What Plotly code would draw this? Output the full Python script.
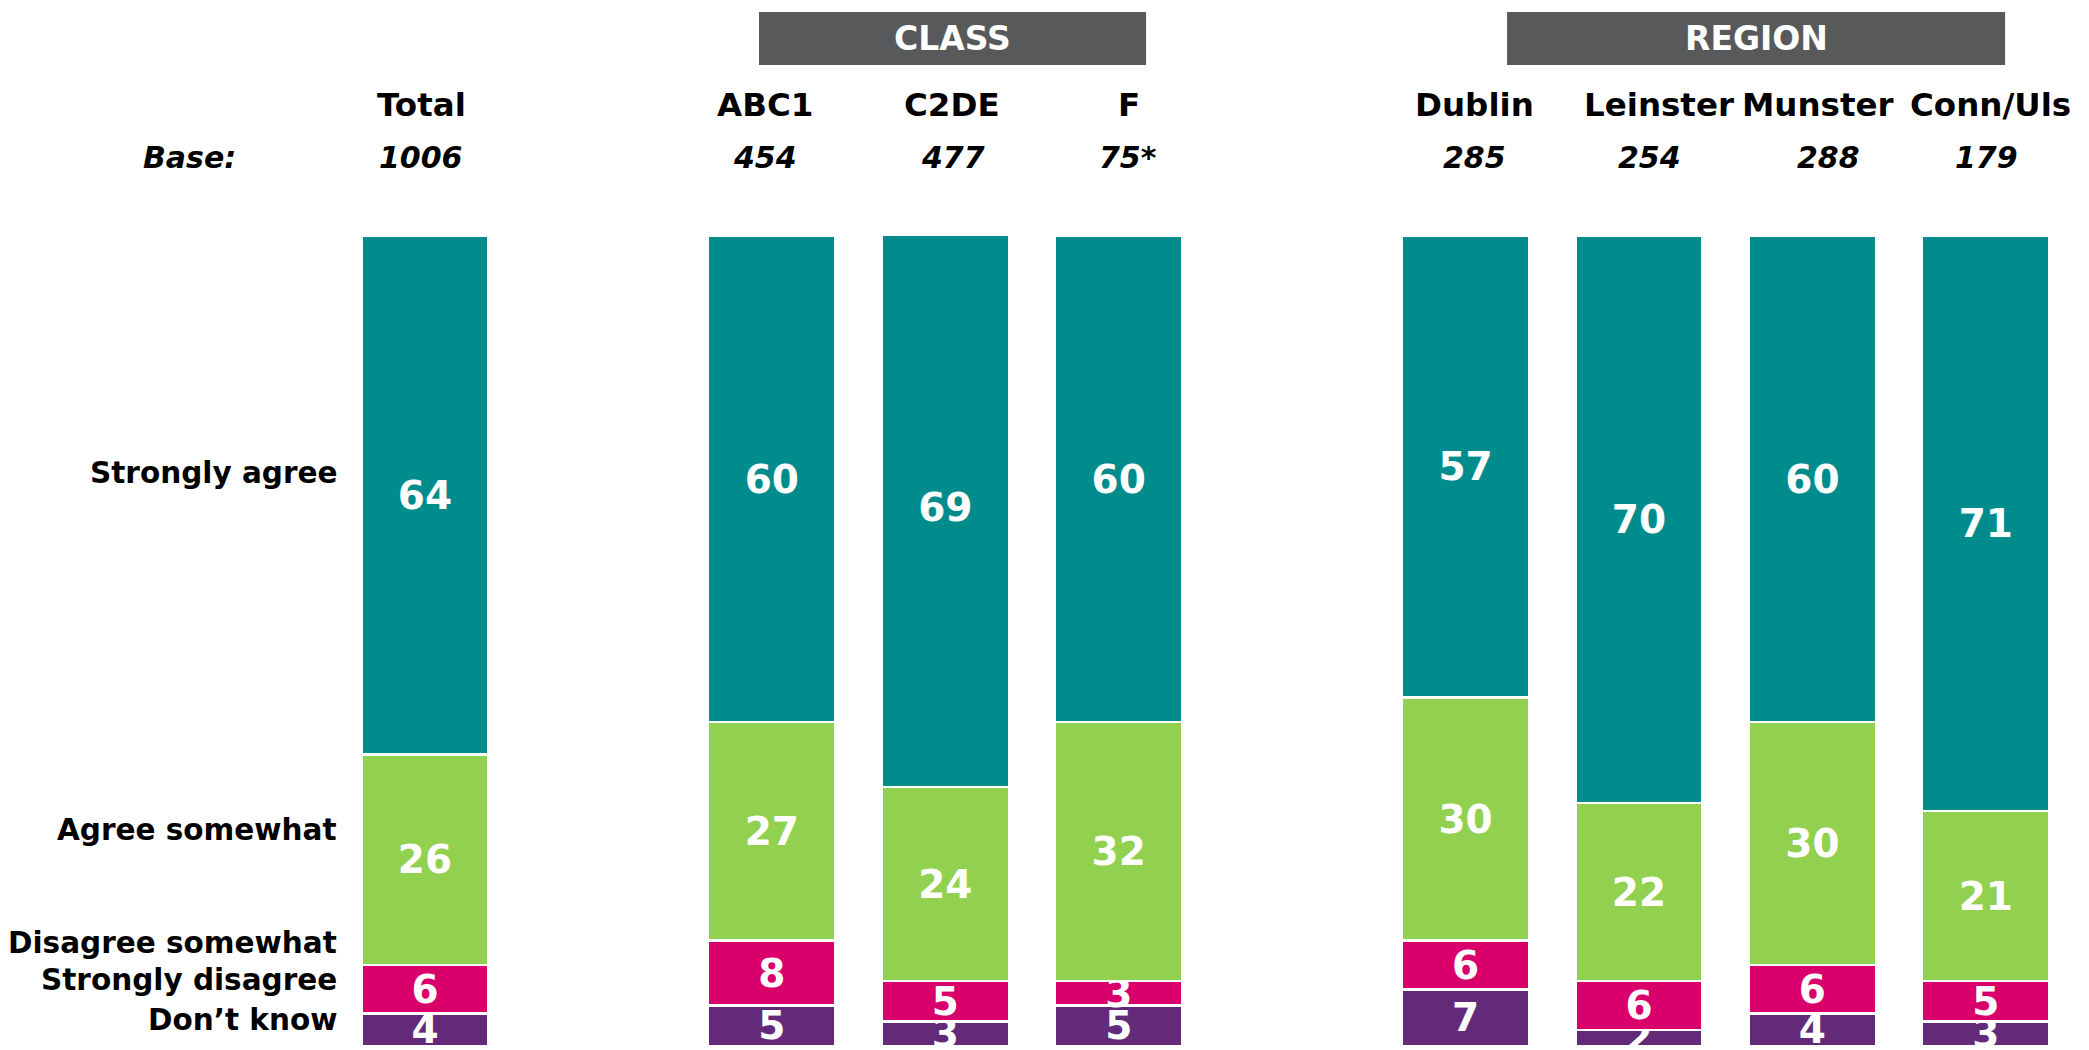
import plotly.graph_objects as go

# ---- data ----
groups = ["Total", "ABC1", "C2DE", "F", "Dublin", "Leinster", "Munster", "Conn/Uls"]
bases = ["1006", "454", "477", "75*", "285", "254", "288", "179"]
strongly_agree = [64, 60, 69, 60, 57, 70, 60, 71]
agree_somewhat = [26, 27, 24, 32, 30, 22, 30, 21]
strongly_disagree = [6, 8, 5, 3, 6, 6, 6, 5]
dont_know = [4, 5, 3, 5, 7, 2, 4, 3]
row_labels = ["Strongly agree", "Agree somewhat", "Disagree somewhat", "Strongly disagree", "Don\u2019t know"]
section_titles = ["CLASS", "REGION"]

# spacer categories to create gaps between sections
SP1, SP2 = "\u2002", "\u2003"
cat_order = [groups[0], SP1] + groups[1:4] + [SP2] + groups[4:]

# small horizontal nudges of the header texts (pixels), as in the original layout
label_shift = [-4, -7, 7, 10, 9, 20, 6, 5]
base_shift = [-4, -7, 8, 9, 9, 11, 16, 1]

FONT = "DejaVu Sans"
series = [
    ("Don\u2019t know", dont_know, "#622A78"),
    ("Strongly disagree", strongly_disagree, "#D9006C"),
    ("Agree somewhat", agree_somewhat, "#92D050"),
    ("Strongly agree", strongly_agree, "#008C8D"),
]

fig = go.Figure()
for name, vals, col in series:
    fig.add_trace(go.Bar(
        x=groups, y=vals, name=name,
        marker=dict(color=col, line=dict(color="white", width=2.5)),
        width=0.735,
        text=[str(v) for v in vals],
        textposition="inside", insidetextanchor="middle", textangle=0,
        constraintext="none",
        textfont=dict(family=FONT, size=39, color="white", weight="bold"),
        cliponaxis=True,
    ))

annotations = []
# header labels & bases
for g, b, ls, bs in zip(groups, bases, label_shift, base_shift):
    annotations.append(dict(x=g, xref="x", y=1.1617, yref="paper", text=f"<b>{g}</b>",
                            showarrow=False, font=dict(family=FONT, size=32.5, color="black"),
                            xanchor="center", yanchor="middle", xshift=ls))
    annotations.append(dict(x=g, xref="x", y=1.0975, yref="paper", text=f"<b><i>{b}</i></b>",
                            showarrow=False, font=dict(family=FONT, size=30, color="black"),
                            xanchor="center", yanchor="middle", xshift=bs))
annotations.append(dict(x=0.0871, xref="paper", y=1.0975, yref="paper", text="<b><i>Base:</i></b>",
                        showarrow=False, font=dict(family=FONT, size=30, color="black"),
                        xanchor="center", yanchor="middle"))

# row labels
row_y = [0.7074, 0.2667, 0.1272, 0.0815, 0.0321]
for lab, yy in zip(row_labels, row_y):
    annotations.append(dict(x=0.1585, xref="paper", y=yy, yref="paper", text=f"<b>{lab}</b>",
                            showarrow=False, font=dict(family=FONT, size=29.5, color="black"),
                            xanchor="right", yanchor="middle"))

# section header boxes
boxes = [(0.3595, 0.5448), (0.7176, 0.9560)]
shapes = []
for (x0, x1), title in zip(boxes, section_titles):
    shapes.append(dict(type="rect", xref="paper", yref="paper", x0=x0, x1=x1, y0=1.2111, y1=1.2765,
                       fillcolor="#58595B", line=dict(width=0), layer="above"))
    annotations.append(dict(x=(x0 + x1) / 2, xref="paper", y=1.2438, yref="paper", text=f"<b>{title}</b>",
                            showarrow=False, font=dict(family=FONT, size=33, color="white"),
                            xanchor="center", yanchor="middle"))

fig.update_layout(
    barmode="stack",
    width=2089, height=1050,
    margin=dict(l=0, r=0, t=228, b=12, pad=0),
    plot_bgcolor="white", paper_bgcolor="white",
    showlegend=False,
    uniformtext=dict(minsize=39, mode="show"),
    xaxis=dict(type="category", categoryorder="array", categoryarray=cat_order,
               range=[-2.4045, 9.641], showticklabels=False, showgrid=False, zeroline=False,
               showline=False, ticks=""),
    yaxis=dict(range=[0, 100], showticklabels=False, showgrid=False, zeroline=False,
               showline=False, ticks=""),
    annotations=annotations,
    shapes=shapes,
)

fig.write_html("out.html")
